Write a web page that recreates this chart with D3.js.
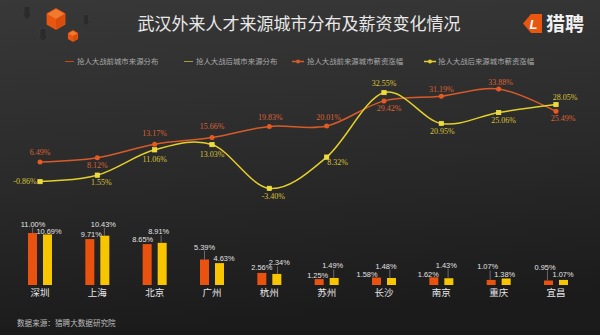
<!DOCTYPE html>
<html>
<head>
<meta charset="utf-8">
<script src="https://cdn.jsdelivr.net/npm/d3@7"></script>
<style>
html,body{margin:0;padding:0;background:#222;}
svg{display:block;}
</style>
</head>
<body>
<svg id="chart" width="600" height="335"></svg>
<script>
// ---- data ----
const cities = ["深圳","上海","北京","广州","杭州","苏州","长沙","南京","重庆","宜昌"];
const distBefore = [11.00, 9.71, 8.65, 5.39, 2.56, 1.25, 1.58, 1.62, 1.07, 0.95];
const distAfter  = [10.69, 10.43, 8.91, 4.63, 2.34, 1.49, 1.48, 1.43, 1.38, 1.07];
const salaryBefore = [6.49, 8.12, 13.17, 15.66, 19.83, 20.01, 29.42, 31.19, 33.88, 25.49];
const salaryAfter  = [-0.86, 1.55, 11.06, 13.03, -3.40, 8.32, 32.55, 20.95, 25.06, 28.05];
const seriesNames = ["抢人大战前城市来源分布","抢人大战后城市来源分布","抢人大战前来源城市薪资涨幅","抢人大战后来源城市薪资涨幅"];
const title = "武汉外来人才来源城市分布及薪资变化情况";
const source = "数据来源：猎聘大数据研究院";

// ---- label placement (layout only) ----
const lblBeforeLine = [[0,-10],[0,8],[0,-11],[0,-11],[1,-9],[2,-9],[5,7],[0,-7],[2,-7],[7,7]];
const lblAfterLine  = [[-15,0],[4,7],[0,9],[0,10],[4,8],[11,5],[0,-9],[1,8],[5,8],[9,-7]];
const lblBarBefore = [[0.5,-9],[1.5,-5],[-4.5,-5],[0,-12.5],[0,-5],[-1.5,-4],[-9.5,-3],[-5.5,-3],[-3.5,-13],[-3.5,-13.5]];
const lblBarAfter  = [[1.5,-2.5],[-1.5,-11.5],[-3.5,-11],[4.5,-5],[2.5,-11],[-1.5,-12],[-5.5,-12],[-2.5,-13],[-1.5,-3.5],[-0.5,-5]];

const C = {
  barO: "#e9530f", barY: "#f8c600",
  lineO: "#d75a29", lineY: "#e3cf2a",
  lblO: "#dc6232", lblY: "#d9c235"
};

const svg = d3.select("#chart");
const defs = svg.append("defs");
const bg = defs.append("linearGradient").attr("id","bg").attr("x1",0).attr("y1",0).attr("x2",0.15).attr("y2",1);
bg.append("stop").attr("offset","0%").attr("stop-color","#383838");
bg.append("stop").attr("offset","55%").attr("stop-color","#2a2a2a");
bg.append("stop").attr("offset","100%").attr("stop-color","#1b1b1b");
svg.append("rect").attr("width",600).attr("height",335).attr("fill","url(#bg)");

// ---- decorative icons ----
function hex(cx, cy, r){
  return d3.range(6).map(i => { const a = Math.PI/3*i - Math.PI/2; return [cx + r*Math.cos(a), cy + r*Math.sin(a)]; });
}
function cube(cx, cy, r){
  const p = hex(cx, cy, r);
  const g = svg.append("g");
  g.append("polygon").attr("points", p.map(d=>d.join(",")).join(" ")).attr("fill","#e8560f").attr("stroke","#e8560f").attr("stroke-linejoin","round").attr("stroke-width",1.5);
  g.append("polygon").attr("points", [p[0],p[1],[cx,cy],p[5]].map(d=>d.join(",")).join(" ")).attr("fill","#f27a30");
  g.append("polygon").attr("points", [[cx,cy],p[1],p[2],p[3]].map(d=>d.join(",")).join(" ")).attr("fill","#d84c0c");
}
function arrow(cx, cy, s){
  svg.append("path")
    .attr("d", `M${cx-s*0.45},${cy-s} Q${cx},${cy-s*1.3} ${cx+s*0.45},${cy-s} L${cx+s*0.45},${cy} L${cx+s*0.75},${cy} L${cx},${cy+s*0.9} L${cx-s*0.75},${cy} L${cx-s*0.45},${cy} Z`)
    .attr("fill","#2b2b2b").attr("stroke","#3e3e3e").attr("stroke-width",0.8);
}
arrow(27,14,7); arrow(43,36,7); arrow(86,21,6);
cube(56,19,10); cube(73,36,5);

// ---- title ----
svg.append("text").attr("x",299).attr("y",30).attr("text-anchor","middle")
  .attr("font-family","'Noto Sans CJK SC', sans-serif").attr("font-size",17)
  .attr("fill","#e8e8e8").text(title);

// logo
svg.append("path").attr("d","M523,23.5 L531,14 L542,14 L542,33 L531,33 Z").attr("fill","#e8560f");
svg.append("text").attr("x",533.5).attr("y",28.5).attr("text-anchor","middle")
  .attr("font-family","'Liberation Sans', sans-serif").attr("font-weight","bold").attr("font-style","italic")
  .attr("font-size",13).attr("fill","#ffffff").text("L");
svg.append("text").attr("x",546).attr("y",30.5)
  .attr("font-family","'Noto Sans CJK SC', sans-serif").attr("font-weight","bold").attr("font-size",19)
  .attr("fill","#f0f0f0").text("猎聘");

// ---- legend ----
const legendX = [[65,77],[184,196],[292,307],[424,438]];
const legendColor = [C.barO, "#c8b43a", C.lineO, C.lineY];
const lg = svg.append("g").attr("font-family","'Noto Sans CJK SC', sans-serif").attr("font-size",7.4).attr("fill","#a8a8a8");
seriesNames.forEach((n,i)=>{
  const [lx, tx] = legendX[i];
  lg.append("line").attr("x1",lx).attr("x2",lx+(i<2?9:12)).attr("y1",61.5).attr("y2",61.5)
    .attr("stroke",legendColor[i]).attr("stroke-width",i<2?1:1.5).attr("opacity",i<2?0.8:1);
  if(i>=2) lg.append("circle").attr("cx",lx+6).attr("cy",61.5).attr("r",2).attr("fill",legendColor[i]);
  lg.append("text").attr("x",tx).attr("y",64.1).text(n);
});

// ---- scales ----
const x = d3.scalePoint().domain(cities).range([40, 556]);
const yLine = d3.scaleLinear().domain([0, 30]).range([179.3, 99.35]);
const yBar = d3.scaleLinear().domain([0, 11]).range([285, 233]);
const barW = 9;

// ---- bars ----
const barG = svg.append("g");
const barLbl = svg.append("g").attr("font-family","'Liberation Sans Narrow','Liberation Sans', sans-serif").attr("font-size",7.4).attr("fill","#e2e2e2").attr("text-anchor","middle");
function drawBars(vals, offset, color, lbl){
  vals.forEach((v,i)=>{
    const cx = x(cities[i]) + offset;
    barG.append("rect").attr("x",cx-barW/2).attr("y",yBar(v)).attr("width",barW).attr("height",yBar(0)-yBar(v)).attr("fill",color);
    const [dx,dy] = lbl[i];
    const ly = yBar(v)+dy;
    if(dy < -8){
      barLbl.append("line").attr("x1",cx+dx*0.3).attr("x2",cx+dx*0.3).attr("y1",ly+3.5).attr("y2",yBar(v)).attr("stroke","#9a9a9a").attr("stroke-width",0.6);
    }
    barLbl.append("text").attr("x",cx+dx).attr("y",ly+2.5).text(v.toFixed(2)+"%");
  });
}
drawBars(distBefore, -7.5, C.barO, lblBarBefore);
drawBars(distAfter, 7.5, C.barY, lblBarAfter);

// city labels
svg.append("g").selectAll("text").data(cities).join("text")
  .attr("x",d=>x(d)).attr("y",296).attr("text-anchor","middle")
  .attr("font-family","'Noto Sans CJK SC', sans-serif").attr("font-size",9.5).attr("fill","#e6e6e6").text(d=>d);

// source
svg.append("text").attr("x",17).attr("y",326).attr("font-family","'Noto Sans CJK SC', sans-serif")
  .attr("font-size",7.6).attr("fill","#bdbdbd").text(source);

// ---- lines ----
const lineGen = d3.line().x((d,i)=>x(cities[i])).y(d=>yLine(d)).curve(d3.curveCardinal.tension(0));
function drawLine(vals, color, markColor, square, lblColor, lbl){
  svg.append("path").datum(vals).attr("d",lineGen).attr("fill","none").attr("stroke",color).attr("stroke-width",1.5);
  const g = svg.append("g");
  vals.forEach((v,i)=>{
    const px = x(cities[i]), py = yLine(v);
    if(square){
      g.append("rect").attr("x",px-2.2).attr("y",py-2.2).attr("width",4.4).attr("height",4.4).attr("fill",markColor).attr("stroke","#f6e860").attr("stroke-width",0.6);
    } else {
      g.append("circle").attr("cx",px).attr("cy",py).attr("r",2.5).attr("fill",markColor);
    }
    const [dx,dy] = lbl[i];
    g.append("text").attr("x",px+dx).attr("y",py+dy+2.8).attr("text-anchor","middle")
      .attr("font-family","'Liberation Serif', serif").attr("font-size",8).attr("fill",lblColor)
      .text(v.toFixed(2)+"%");
  });
}
drawLine(salaryBefore, C.lineO, "#e65a22", false, C.lblO, lblBeforeLine);
drawLine(salaryAfter, C.lineY, "#eedd30", true, C.lblY, lblAfterLine);
</script>
</body>
</html>
